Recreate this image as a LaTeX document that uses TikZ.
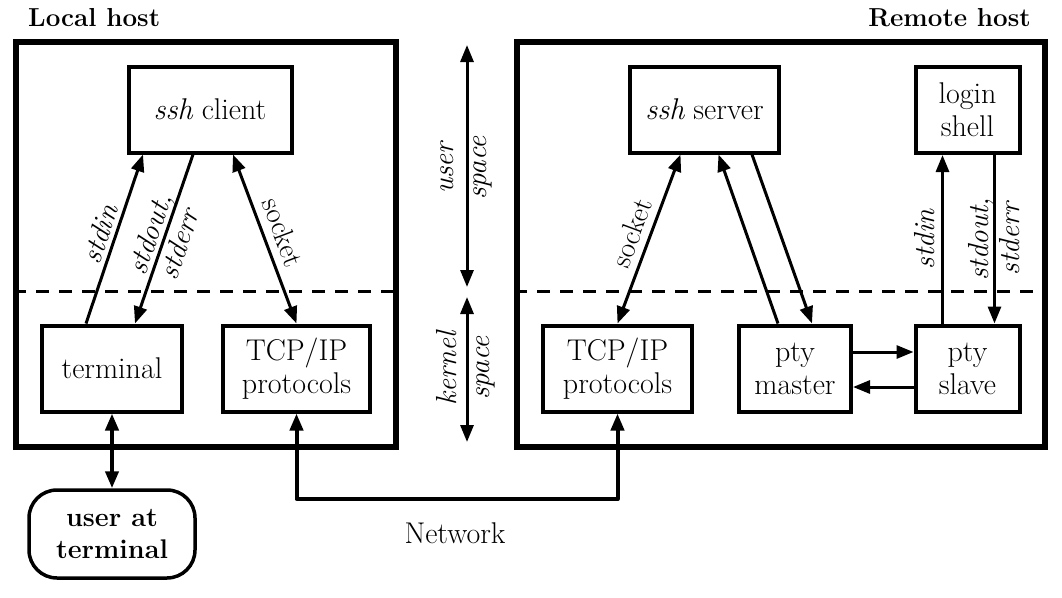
\documentclass[tikz,border=0pt]{standalone}
\usepackage{fontspec}
\usetikzlibrary{arrows.meta}
\begin{document}
\begin{tikzpicture}[x=1pt,y=-1pt,
  every node/.style={font=\fontsize{30}{33}\selectfont, inner sep=0pt},
  box/.style={draw, line width=4pt, minimum height=86pt, align=center},
  host/.style={draw, line width=5.5pt},
  tip/.tip={Triangle[length=17pt,width=13pt]},
  arr/.style={line width=3pt, -tip},
  darr/.style={line width=3pt, tip-tip},
  tarr/.style={line width=4pt, tip-tip, line join=round},
  divider/.style={line width=3pt, dash pattern=on 13pt off 10pt},
  lab/.style={font=\fontsize{29}{31}\selectfont\itshape, inner sep=2pt, align=center},
  rlab/.style={font=\fontsize{29}{31}\selectfont, inner sep=2pt},
  title/.style={font=\fontsize{26}{30}\selectfont\bfseries}
]
\useasboundingbox (0,0) rectangle (1062,597);

% host frames
\node[host, minimum width=380pt, minimum height=405pt] (local) at (206,244.5) {};
\node[host, minimum width=528pt, minimum height=405pt] (remote) at (781,244.5) {};
\node[title, anchor=base west] (lh) at (28,27) {Local host};
\node[title, anchor=base east] (rh) at (1031,27) {Remote host};

% user/kernel dividers
\draw[divider] (local.west |- 0,291) -- (local.east |- 0,291);
\draw[divider] (remote.west |- 0,291) -- (remote.east |- 0,291);

% local nodes
\node[box, minimum width=163pt] (sshc) at (210,109.5) {{\itshape ssh} client};
\node[box, minimum width=140pt] (term) at (112,368.5) {terminal};
\node[box, minimum width=147pt] (tcpL) at (296.5,368.5) {TCP/IP\\protocols};
\node[draw, line width=3.5pt, rounded corners=28pt, minimum width=166pt, minimum height=88pt,
      align=center, font=\fontsize{27}{32}\selectfont\bfseries] (user) at (112,534) {user at\\terminal};

% remote nodes
\node[box, minimum width=149pt] (sshs) at (704.5,109.5) {{\itshape ssh} server};
\node[box, minimum width=104pt] (login) at (967.5,110) {login\\shell};
\node[box, minimum width=149pt] (tcpR) at (617.5,368.5) {TCP/IP\\protocols};
\node[box, minimum width=112pt] (ptym) at (795,368.5) {pty\\master};
\node[box, minimum width=104pt] (ptys) at (967.5,368.5) {pty\\slave};

% local connectors
\draw[arr] ([xshift=-26pt]term.north) -- node[lab, sloped, above=2pt] {stdin} ([xshift=-67pt]sshc.south);
\draw[arr] ([xshift=-17pt]sshc.south) -- node[lab, sloped] {stdout,\\stderr} ([xshift=23pt]term.north);
\draw[darr] ([xshift=23pt]sshc.south) -- node[rlab, sloped, above=6pt] {socket} (tcpL.north);
\draw[tarr] (term.south) -- (term.south |- user.north);

% remote connectors
\draw[darr] ([xshift=-24pt]sshs.south) -- node[rlab, sloped, above=5pt] {socket} (tcpR.north);
\draw[arr] ([xshift=-17pt]ptym.north) -- ([xshift=14pt]sshs.south);
\draw[arr] ([xshift=47.5pt]sshs.south) -- ([xshift=17pt]ptym.north);
\draw[arr] ([yshift=16.5pt]ptym.east) -- ([yshift=16.5pt]ptys.west);
\draw[arr] ([yshift=-18.5pt]ptys.west) -- ([yshift=-18.5pt]ptym.east);
\draw[arr] ([xshift=-25pt]ptys.north) -- node[lab, rotate=90, above=4pt] {stdin} ([xshift=-25pt]login.south);
\draw[arr] ([xshift=27pt]login.south) -- node[lab, rotate=90] {stdout,\\stderr} ([xshift=27pt]ptys.north);

% network
\coordinate (netL) at (297,499);
\coordinate (netR) at (618,499);
\draw[tarr] (tcpL.south) -- (tcpL.south |- netL) -- (tcpR.south |- netR) -- (tcpR.south);
\node (net) at (455,533) {Network};

% user / kernel space
\coordinate (u1) at (467,45);
\coordinate (u2) at (467,287);
\coordinate (k1) at (467,297);
\coordinate (k2) at (467,442);
\draw[darr] (u1) -- (u2);
\draw[darr] (k1) -- (k2);
\node[lab, font=\fontsize{29}{33}\selectfont\itshape, rotate=90] (us) at (466,168) {user\\space};
\node[lab, font=\fontsize{29}{33}\selectfont\itshape, rotate=90] (ks) at (466,368) {kernel\\space};
\end{tikzpicture}
\end{document}
